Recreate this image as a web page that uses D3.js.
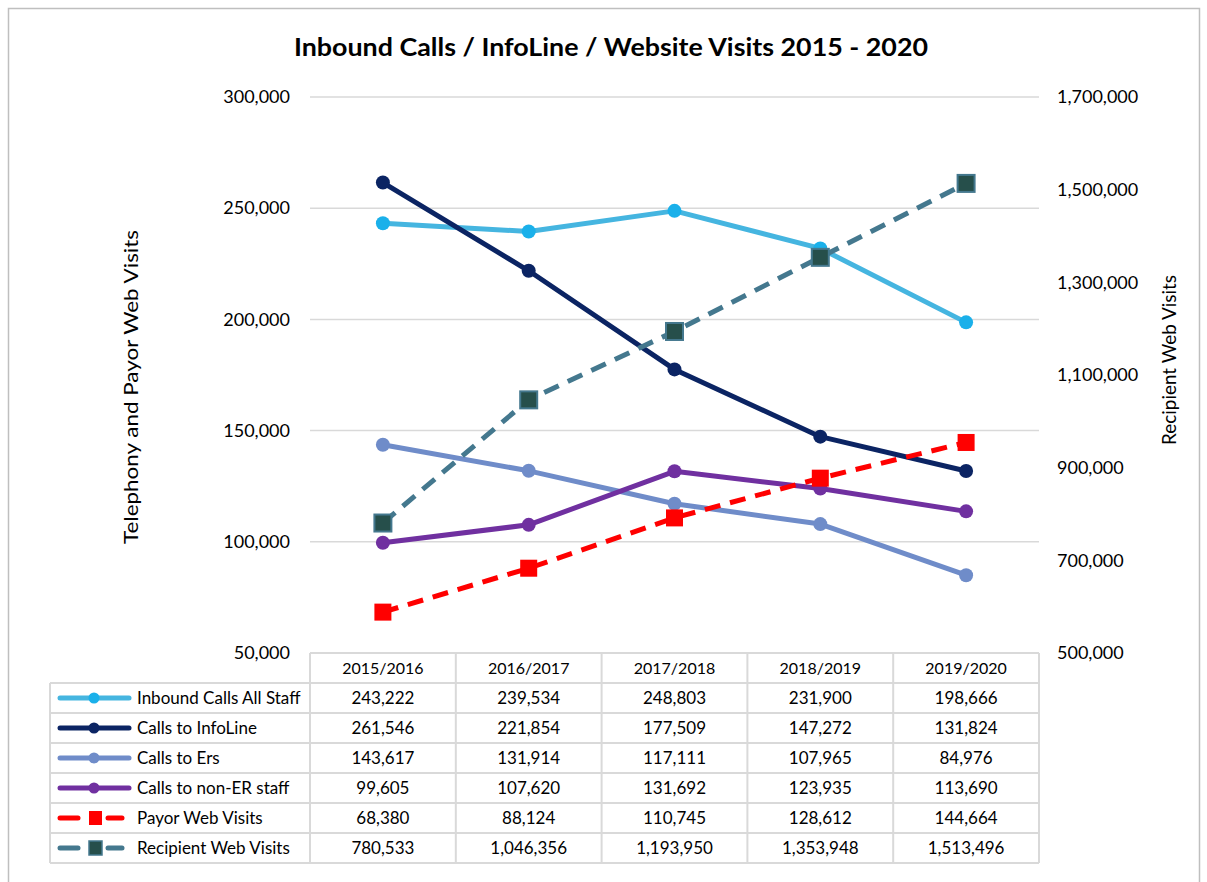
<!DOCTYPE html>
<html><head><meta charset="utf-8">
<script src="https://cdn.jsdelivr.net/npm/d3@7"></script>
<style>body{margin:0;background:#fff;} text{font-family:Lato,"Open Sans",sans-serif;fill:#000;}</style>
</head><body>
<svg id="c" width="1207" height="882"></svg>
<script>
const categories = ["2015/2016","2016/2017","2017/2018","2018/2019","2019/2020"];
const inboundAll = [243222,239534,248803,231900,198666];
const infoLine = [261546,221854,177509,147272,131824];
const callsErs = [143617,131914,117111,107965,84976];
const callsNonER = [99605,107620,131692,123935,113690];
const payorWeb = [68380,88124,110745,128612,144664];
const recipientWeb = [780533,1046356,1193950,1353948,1513496];
const leftTicks = [50000,100000,150000,200000,250000,300000];
const rightTicks = [500000,700000,900000,1100000,1300000,1500000,1700000];

const series = [
  {name:"Inbound Calls All Staff", values:inboundAll, axis:"L", color:"#45B5E0", mcolor:"#1AB0EA", type:"circle", dash:null},
  {name:"Calls to InfoLine", values:infoLine, axis:"L", color:"#0B2463", mcolor:"#0B2463", type:"circle", dash:null},
  {name:"Calls to Ers", values:callsErs, axis:"L", color:"#6F8CC9", mcolor:"#6F8CC9", type:"circle", dash:null},
  {name:"Calls to non-ER staff", values:callsNonER, axis:"L", color:"#7030A0", mcolor:"#7030A0", type:"circle", dash:null},
  {name:"Payor Web Visits", values:payorWeb, axis:"L", color:"#FF0000", mcolor:"#FF0000", type:"square", dash:"16,10"},
  {name:"Recipient Web Visits", values:recipientWeb, axis:"R", color:"#44788E", mcolor:"#264F4B", type:"square", dash:"16,10"}
];

const svg = d3.select("#c");
const fmt = d3.format(",");
const X0 = 310, X1 = 1039, Y0 = 97, Y1 = 653;

// outer border
svg.append("rect").attr("x",8.5).attr("y",8.5).attr("width",1191).attr("height",890)
  .attr("fill","none").attr("stroke","#BFBFBF").attr("stroke-width",1.5);

const x = d3.scaleBand().domain(categories).range([X0, X1]);
const yL = d3.scaleLinear().domain([50000,300000]).range([Y1, Y0]);
const yR = d3.scaleLinear().domain([500000,1700000]).range([Y1, Y0]);

// title
svg.append("text").attr("x",611).attr("y",56).attr("text-anchor","middle")
  .style("font-size","24px").style("font-weight","bold").style("font-family","Lato")
  .attr("textLength",634).attr("lengthAdjust","spacingAndGlyphs")
  .text("Inbound Calls / InfoLine / Website Visits 2015 - 2020");

// gridlines
svg.append("g").selectAll("line").data(leftTicks.slice(1)).join("line")
  .attr("x1",X0).attr("x2",X1).attr("y1",d=>yL(d)).attr("y2",d=>yL(d))
  .attr("stroke","#D9D9D9").attr("stroke-width",1.5);

// left axis
const gl = svg.append("g").attr("transform",`translate(${X0-20},0)`)
  .call(d3.axisLeft(yL).tickValues(leftTicks).tickFormat(fmt).tickSize(0).tickPadding(0));
gl.select(".domain").remove();
gl.selectAll("text").style("font-size","18px").style("font-family","Lato");

// right axis
const gr = svg.append("g").attr("transform",`translate(${X1+18},0)`)
  .call(d3.axisRight(yR).tickValues(rightTicks).tickFormat(fmt).tickSize(0).tickPadding(0));
gr.select(".domain").remove();
gr.selectAll("text").style("font-size","18px").style("font-family","Lato");

// axis titles
svg.append("text").attr("transform","translate(138,387) rotate(-90)").attr("text-anchor","middle")
  .style("font-size","20px").style("font-family","Lato")
  .attr("textLength",314).attr("lengthAdjust","spacingAndGlyphs")
  .text("Telephony and Payor Web Visits");
svg.append("text").attr("transform","translate(1176,360) rotate(-90)").attr("text-anchor","middle")
  .style("font-size","19px").style("font-family","Lato")
  .attr("textLength",170).attr("lengthAdjust","spacingAndGlyphs")
  .text("Recipient Web Visits");

// lines
const cx = c => x(c) + x.bandwidth()/2;
series.forEach(s => {
  const y = s.axis === "L" ? yL : yR;
  const line = d3.line().x((d,i)=>cx(categories[i])).y(d=>y(d));
  svg.append("path").datum(s.values).attr("d",line).attr("fill","none")
    .attr("stroke",s.color).attr("stroke-width",5).attr("stroke-dasharray",s.dash)
    .attr("stroke-linejoin","round");
});
series.forEach(s => {
  const y = s.axis === "L" ? yL : yR;
  const g = svg.append("g");
  if (s.type === "circle") {
    g.selectAll("circle").data(s.values).join("circle")
      .attr("cx",(d,i)=>cx(categories[i])).attr("cy",d=>y(d)).attr("r",7).attr("fill",s.mcolor);
  } else {
    const sz = 17;
    g.selectAll("rect").data(s.values).join("rect")
      .attr("x",(d,i)=>cx(categories[i])-sz/2).attr("y",d=>y(d)-sz/2)
      .attr("width",sz).attr("height",sz).attr("fill",s.mcolor)
      .attr("stroke", s.axis==="R" ? s.color : "none").attr("stroke-width", s.axis==="R" ? 2 : 0);
  }
});

// data table
const rowH = 30, TL = 50;
const tg = svg.append("g");
const gridC = "#D9D9D9";
const nRows = series.length;
tg.append("line").attr("x1",X0).attr("x2",X1).attr("y1",Y1).attr("y2",Y1).attr("stroke",gridC).attr("stroke-width",2);
for (let r=1; r<=nRows+1; r++) {
  tg.append("line").attr("x1",TL).attr("x2",X1).attr("y1",Y1+r*rowH).attr("y2",Y1+r*rowH).attr("stroke",gridC).attr("stroke-width",2);
}
tg.append("line").attr("x1",TL).attr("x2",TL).attr("y1",Y1+rowH).attr("y2",Y1+(nRows+1)*rowH).attr("stroke",gridC).attr("stroke-width",2);
categories.forEach(c=>{
  tg.append("line").attr("x1",x(c)).attr("x2",x(c)).attr("y1",Y1).attr("y2",Y1+(nRows+1)*rowH).attr("stroke",gridC).attr("stroke-width",2);
});
tg.append("line").attr("x1",X1).attr("x2",X1).attr("y1",Y1).attr("y2",Y1+(nRows+1)*rowH).attr("stroke",gridC).attr("stroke-width",2);

tg.selectAll("text.h").data(categories).join("text").attr("class","h")
  .attr("x",d=>cx(d)).attr("y",Y1+rowH/2+6).attr("text-anchor","middle")
  .style("font-size","16px").style("font-family","Lato").text(d=>d);

series.forEach((s,r)=>{
  const yy = Y1 + (r+1)*rowH + rowH/2;
  if (s.type === "circle") {
    tg.append("line").attr("x1",60).attr("x2",129).attr("y1",yy).attr("y2",yy)
      .attr("stroke",s.color).attr("stroke-width",5).attr("stroke-linecap","round");
    tg.append("circle").attr("cx",94).attr("cy",yy).attr("r",5.5).attr("fill",s.mcolor);
  } else {
    tg.append("line").attr("x1",60).attr("x2",78).attr("y1",yy).attr("y2",yy)
      .attr("stroke",s.color).attr("stroke-width",5).attr("stroke-linecap","round");
    tg.append("line").attr("x1",108).attr("x2",122).attr("y1",yy).attr("y2",yy)
      .attr("stroke",s.color).attr("stroke-width",5).attr("stroke-linecap","round");
    tg.append("rect").attr("x",89).attr("y",yy-7).attr("width",13).attr("height",14)
      .attr("fill",s.mcolor).attr("stroke",s.axis==="R"?s.color:"none").attr("stroke-width",1.5);
  }
  tg.append("text").attr("x",137).attr("y",yy+6).style("font-size","17px").style("font-family","Lato").text(s.name);
  categories.forEach((c,i)=>{
    tg.append("text").attr("x",cx(c)).attr("y",yy+6).attr("text-anchor","middle")
      .style("font-size","17px").style("font-family","Lato").text(fmt(s.values[i]));
  });
});
</script>
</body></html>
